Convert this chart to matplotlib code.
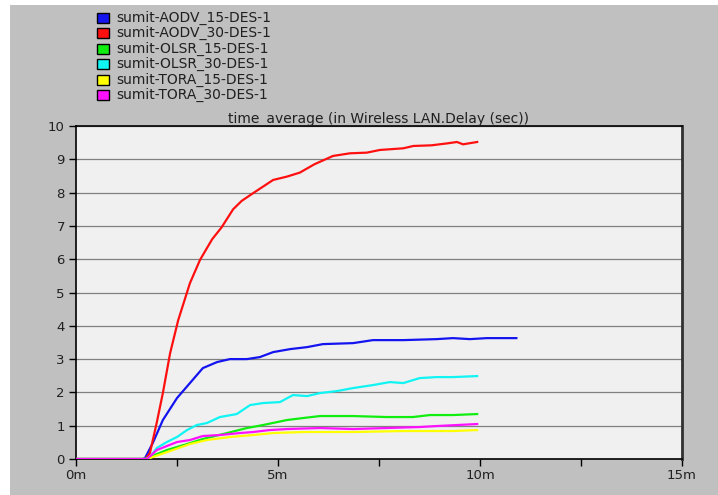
import matplotlib
matplotlib.use("Agg")
import matplotlib.pyplot as plt
from matplotlib.patches import Rectangle
from matplotlib.ticker import MultipleLocator, FuncFormatter

plt.rcParams['font.family'] = ['DejaVu Sans']

# time in minutes, delay in seconds
aodv15_t = [0, 1.65, 1.71, 1.9, 2.15, 2.5, 2.82, 3.14, 3.49, 3.81, 4.23, 4.55, 4.88, 5.3, 5.72,
            6.11, 6.86, 7.35, 8.1, 8.93, 9.33, 9.75, 10.17, 10.9]
aodv15_v = [0, 0, 0.03, 0.48, 1.17, 1.83, 2.28, 2.73, 2.91, 3.0, 3.0, 3.06, 3.21, 3.3, 3.36,
            3.45, 3.48, 3.57, 3.57, 3.6, 3.63, 3.6, 3.63, 3.63]

aodv30_t = [0, 1.72, 1.83, 2.0, 2.15, 2.33, 2.53, 2.82, 3.07, 3.37, 3.6, 3.89, 4.1, 4.38, 4.88,
            5.22, 5.54, 5.9, 6.36, 6.78, 7.2, 7.52, 8.1, 8.35, 8.8, 9.2, 9.43, 9.58, 9.93]
aodv30_v = [0, 0, 0.18, 1.1, 1.98, 3.18, 4.17, 5.28, 5.98, 6.6, 6.95, 7.5, 7.75, 7.98, 8.38,
            8.48, 8.6, 8.85, 9.1, 9.18, 9.2, 9.28, 9.33, 9.4, 9.42, 9.48, 9.52, 9.45, 9.52]

olsr15_t = [0, 1.72, 1.76, 2.25, 2.75, 3.14, 3.74, 4.23, 4.63, 5.22, 5.62, 6.04, 6.86, 7.69,
            8.34, 8.76, 9.33, 9.93]
olsr15_v = [0, 0, 0.03, 0.27, 0.45, 0.6, 0.78, 0.93, 1.02, 1.17, 1.23, 1.29, 1.29, 1.26,
            1.26, 1.32, 1.32, 1.35]

olsr30_t = [0, 1.75, 1.83, 2.0, 2.25, 2.5, 2.75, 2.99, 3.24, 3.56, 3.98, 4.31, 4.63, 5.05,
            5.37, 5.72, 6.04, 6.46, 6.86, 7.35, 7.77, 8.1, 8.51, 8.93, 9.33, 9.93]
olsr30_v = [0, 0, 0.06, 0.33, 0.51, 0.66, 0.87, 1.02, 1.08, 1.26, 1.35, 1.62, 1.68, 1.71,
            1.92, 1.89, 1.98, 2.04, 2.13, 2.22, 2.31, 2.28, 2.43, 2.46, 2.46, 2.49]

tora15_t = [0, 1.75, 1.83, 2.33, 2.82, 3.24, 3.81, 4.38, 4.88, 5.62, 6.86, 8.1, 9.33, 9.93]
tora15_v = [0, 0, 0.03, 0.24, 0.45, 0.57, 0.66, 0.72, 0.78, 0.81, 0.81, 0.84, 0.84, 0.87]

tora30_t = [0, 1.75, 1.85, 2.0, 2.5, 2.82, 3.14, 3.56, 4.06, 4.38, 4.8, 5.22, 6.04, 6.86,
            7.69, 8.51, 8.93, 9.93]
tora30_v = [0, 0, 0.1, 0.27, 0.51, 0.57, 0.69, 0.72, 0.78, 0.81, 0.87, 0.9, 0.93, 0.9,
            0.93, 0.96, 0.99, 1.05]

names = ['sumit-AODV_15-DES-1', 'sumit-AODV_30-DES-1', 'sumit-OLSR_15-DES-1',
         'sumit-OLSR_30-DES-1', 'sumit-TORA_15-DES-1', 'sumit-TORA_30-DES-1']
colors = ['#1414f0', '#ff1010', '#10ee10', '#10f4f4', '#ffff00', '#ff10ff']
series = [(aodv15_t, aodv15_v), (aodv30_t, aodv30_v), (olsr15_t, olsr15_v),
          (olsr30_t, olsr30_v), (tora15_t, tora15_v), (tora30_t, tora30_v)]
draw_order = [1, 0, 3, 4, 5, 2]

fig = plt.figure(figsize=(7.18, 4.95), dpi=100, facecolor='white')
fig.patches.append(Rectangle((10 / 718, 0), 1, 1 - 5 / 495, transform=fig.transFigure,
                             facecolor='#c0c0c0', edgecolor='none', zorder=-10))

ax = fig.add_axes([76 / 718, 36 / 495, 606 / 718, 333 / 495])
ax.set_facecolor('#f0f0f0')

for i in draw_order:
    t, v = series[i]
    ax.plot(t, v, color=colors[i], lw=1.6, solid_joinstyle='round', zorder=3 + i * 0.01)

ax.set_xlim(0, 15)
ax.set_ylim(0, 10)
ax.xaxis.set_major_locator(MultipleLocator(5))
ax.xaxis.set_minor_locator(MultipleLocator(2.5))
ax.xaxis.set_major_formatter(FuncFormatter(lambda x, p: '%dm' % x))
ax.yaxis.set_major_locator(MultipleLocator(1))
ax.grid(axis='y', color='#808080', lw=0.9)
ax.set_axisbelow(True)
ax.tick_params(axis='both', which='both', direction='out', length=5, width=1,
               labelsize=9.5, color='black', labelcolor='#202020')
ax.tick_params(axis='y', pad=3)
ax.tick_params(axis='x', pad=2)
for s in ['left', 'bottom', 'top']:
    ax.spines[s].set_color('black')
    ax.spines[s].set_linewidth(1.2)
ax.spines['right'].set_color('#303030')
ax.spines['right'].set_linewidth(2)

ax.set_title('time_average (in Wireless LAN.Delay (sec))', fontsize=10, pad=2, color='#202020')

# legend block at top left
for k, (name, c) in enumerate(zip(names, colors)):
    yc = 1 - (18 + k * 15.4) / 495
    fig.patches.append(Rectangle((97 / 718, yc - 5 / 495), 12 / 718, 10 / 495,
                                 transform=fig.transFigure, facecolor=c,
                                 edgecolor='black', lw=1))
    fig.text(116 / 718, yc, name, fontsize=10, va='center', ha='left', color='#202020')

fig.savefig('out.png', dpi=100, facecolor=fig.get_facecolor())
